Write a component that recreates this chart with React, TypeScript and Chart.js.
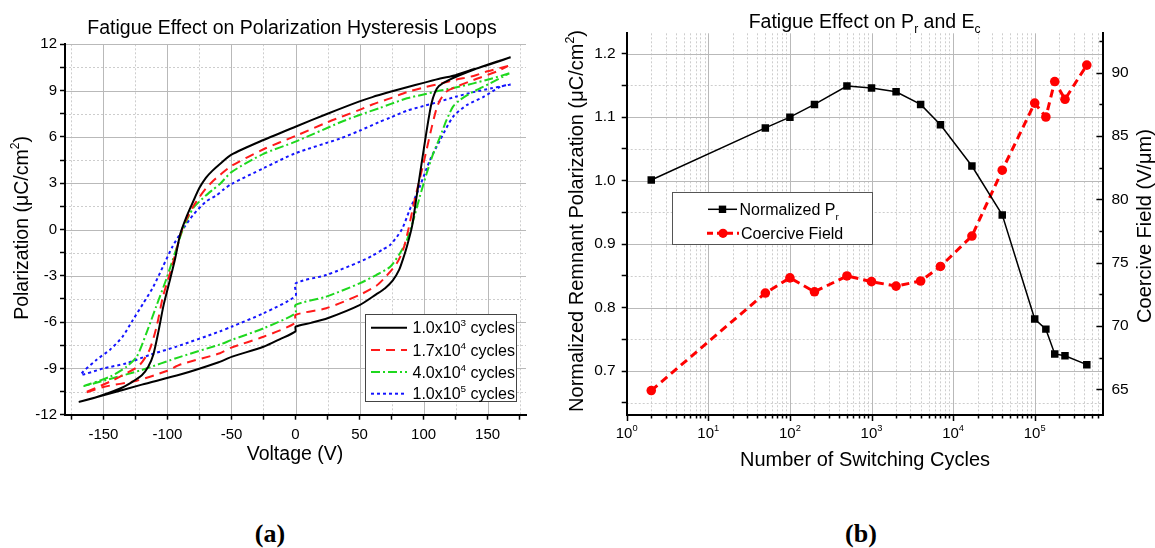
import React, { useEffect, useRef } from 'react';
import { Chart, registerables } from 'chart.js';
Chart.register(...registerables);

const FONT = '"Liberation Sans", Arial, sans-serif';

// ---------------- Panel (a): hysteresis loops ----------------
const legendA = ['1.0x10|3| cycles', '1.7x10|4| cycles', '4.0x10|4| cycles', '1.0x10|5| cycles'];

const v1e3 = [168, 150, 139, 125, 113, 100, 87, 74, 60, 50, 25, 0, -25, -50, -59, -65, -70, -75, -80, -85, -90, -94, -98, -103, -107, -111, -115, -120, -128, -137, -155, -168.6,
  -150, -120, -90, -60, -50, -25, -12, 0, 0, 12, 25, 50, 63, 70, 76, 81, 84, 87, 91, 94.5, 98.5, 102.5, 106, 109, 112, 120, 139, 160, 168];
const p1e3 = [11.16, 10.65, 10.38, 10.0, 9.78, 9.5, 9.22, 8.92, 8.58, 8.3, 7.5, 6.66, 5.8, 4.85, 4.25, 3.8, 3.35, 2.7, 1.8, 0.85, -0.3, -1.9, -3.25, -4.9, -6.6, -8.1, -8.9, -9.45, -9.9, -10.3, -10.85, -11.16,
  -10.75, -10.05, -9.4, -8.6, -8.25, -7.6, -7.1, -6.6, -6.3, -6.05, -5.75, -4.9, -4.2, -3.8, -3.3, -2.6, -1.9, -1.1, 0.2, 2.1, 4.3, 6.45, 8.1, 8.9, 9.3, 9.7, 10.35, 10.95, 11.16];

const v17e4 = [166, 150, 139, 125, 113, 100, 87, 74, 60, 50, 25, 0, -25, -50, -59, -65, -70, -75, -80, -88, -93, -98, -103.5, -108.5, -114, -121.7, -132, -145, -165,
  -150, -124, -100, -90, -59, -50, -25, 0, 0, 24, 50, 63, 70, 79, 84, 88, 93, 100, 106.3, 110, 113, 118, 126, 139, 157, 166];
const p17e4 = [10.6, 10.25, 9.95, 9.7, 9.45, 9.2, 8.9, 8.5, 8.1, 7.75, 6.95, 6.06, 5.2, 4.12, 3.53, 3.1, 2.65, 2.1, 1.48, 0.15, -1.33, -2.84, -4.35, -6.3, -7.8, -8.78, -9.32, -9.86, -10.6,
  -10.2, -9.8, -9.15, -8.75, -8.02, -7.65, -6.95, -6.05, -5.54, -5.1, -4.24, -3.65, -3.1, -2.2, -1.33, -0.05, 1.9, 4.3, 6.6, 7.8, 8.4, 8.94, 9.26, 9.69, 10.23, 10.6];

const v4e4 = [167, 152, 139, 125, 113, 100, 87, 74, 66, 50, 35, 0, -25, -50, -59, -65, -70, -80, -88, -94, -101, -108.7, -116.5, -124, -132, -145, -165,
  -150, -120, -90, -59, -50, -25, 0, 0, 24, 50, 63, 74, 81.5, 87, 92, 97, 102.4, 107.6, 113, 118, 123, 128.5, 139, 152, 167];
const p4e4 = [10.12, 9.75, 9.47, 9.2, 9.0, 8.75, 8.5, 8.12, 7.88, 7.42, 6.95, 5.69, 4.9, 3.72, 2.95, 2.55, 2.2, 1.37, 0.0, -1.5, -3.24, -4.97, -6.73, -8.24, -8.89, -9.54, -10.14,
  -9.8, -9.1, -8.25, -7.45, -7.16, -6.4, -5.43, -4.89, -4.35, -3.49, -2.95, -2.41, -1.55, -0.69, 0.6, 2.11, 3.63, 4.93, 6.02, 7.1, 7.96, 8.4, 8.94, 9.47, 10.12];

const v1e5 = [168, 153, 139, 125, 113, 100, 87, 74, 65, 50, 35, 0, -25, -50, -56, -62, -70, -80, -88, -96, -103.5, -111, -119, -127, -135, -145, -155.6, -167.5,
  -150, -132, -114, -93, -59, -50, -25, 0, 0, 24, 50, 60, 68, 74, 83, 89, 97, 105, 113, 123, 134, 147, 160, 168];
const p1e5 = [9.4, 9.15, 8.9, 8.6, 8.3, 8.0, 7.7, 7.25, 6.95, 6.4, 5.9, 4.94, 3.97, 2.95, 2.6, 2.2, 1.8, 0.94, 0.0, -1.1, -2.4, -3.7, -4.8, -5.86, -6.94, -7.8, -8.46, -9.4,
  -9.0, -8.67, -8.13, -7.59, -6.6, -6.3, -5.43, -4.3, -3.5, -2.95, -2.1, -1.7, -1.3, -1.0, 0.0, 1.24, 2.77, 4.5, 5.8, 7.3, 8.07, 8.6, 9.25, 9.4];

const xMajorA = [-150, -100, -50, 0, 50, 100, 150];
const xMinorA = [-175, -125, -75, -25, 25, 75, 125, 175];
const yMajorA = [-12, -9, -6, -3, 0, 3, 6, 9, 12];
const yMinorA = [-10.5, -7.5, -4.5, -1.5, 1.5, 4.5, 7.5, 10.5];

// ---------------- Panel (b): fatigue ----------------
const cycles = [2, 50, 100, 200, 500, 1000, 2000, 4000, 7000, 17000, 40000, 100000, 137000, 176000, 235000, 435000];
const prNorm = [1.001, 1.083, 1.100, 1.120, 1.149, 1.146, 1.140, 1.120, 1.088, 1.023, 0.946, 0.782, 0.766, 0.727, 0.724, 0.710];
const ecField = [64.9, 72.6, 73.8, 72.7, 73.95, 73.5, 73.15, 73.55, 74.7, 77.1, 82.3, 87.6, 86.5, 89.3, 87.9, 90.6];

const decadesB = [1, 10, 100, 1000, 10000, 100000];
const xMaxB = 685000;
const xMinorB: number[] = [];
decadesB.forEach((d) => { for (let k = 2; k <= 9; k++) if (d * k <= xMaxB) xMinorB.push(d * k); });
const yMajorB = [0.7, 0.8, 0.9, 1.0, 1.1, 1.2];
const yMinorB = [0.65, 0.75, 0.85, 0.95, 1.05, 1.15];
const y2MajorB = [65, 70, 75, 80, 85, 90];
const y2MinorB = [67.5, 72.5, 77.5, 82.5, 87.5, 92.5];

const MAJOR = '#b9b9b9';
const MINOR = '#cdcdcd';

type Seg = [string, string?];
function parseSegs(s: string): Seg[] {
  const parts = s.split('|');
  return parts.map((p, i) => [p, i % 2 === 1 ? 'sup' : undefined] as Seg);
}
function rich(ctx: CanvasRenderingContext2D, segs: Seg[], x: number, y: number, size: number, align = 'left', angle = 0, color = '#000') {
  ctx.save();
  ctx.translate(x, y);
  if (angle) ctx.rotate(angle);
  ctx.fillStyle = color;
  ctx.textBaseline = 'alphabetic';
  ctx.textAlign = 'left';
  const sm = size * 0.62;
  const w = segs.map(([t, k]) => { ctx.font = `${k ? sm : size}px ${FONT}`; return ctx.measureText(t).width; });
  const total = w.reduce((a, b) => a + b, 0);
  let cx = align === 'center' ? -total / 2 : align === 'right' ? -total : 0;
  segs.forEach(([t, k], i) => {
    ctx.font = `${k ? sm : size}px ${FONT}`;
    const dy = k === 'sup' ? -size * 0.42 : k === 'sub' ? size * 0.3 : 0;
    ctx.fillText(t, cx, dy);
    cx += w[i];
  });
  ctx.restore();
}

function hLine(ctx: CanvasRenderingContext2D, x1: number, x2: number, y: number) {
  const yy = Math.round(y) + 0.5;
  ctx.beginPath(); ctx.moveTo(x1, yy); ctx.lineTo(x2, yy); ctx.stroke();
}
function vLine(ctx: CanvasRenderingContext2D, x: number, y1: number, y2: number) {
  const xx = Math.round(x) + 0.5;
  ctx.beginPath(); ctx.moveTo(xx, y1); ctx.lineTo(xx, y2); ctx.stroke();
}

function setTicks(values: number[]) {
  return (s: any) => { s.ticks = [...values].sort((a, b) => a - b).map((v) => ({ value: v })); };
}
const near = (arr: number[], v: number) => arr.some((a) => Math.abs(a - v) < 1e-6);

const seriesA = [
  { v: v1e3, p: p1e3, color: '#000000', dash: [] as number[] },
  { v: v17e4, p: p17e4, color: '#ff1a1a', dash: [9, 6] },
  { v: v4e4, p: p4e4, color: '#1ed81e', dash: [9, 3, 2, 3] },
  { v: v1e5, p: p1e5, color: '#1414ff', dash: [3, 3] },
];

function configA(): any {
  const plugin = {
    id: 'panelA',
    beforeDraw(chart: any) {
      const { ctx, chartArea: ca, scales: { x, y } } = chart;
      ctx.save();
      ctx.lineWidth = 1;
      ctx.strokeStyle = MINOR; ctx.setLineDash([2, 2]);
      xMinorA.forEach((v) => vLine(ctx, x.getPixelForValue(v), ca.top, ca.bottom));
      yMinorA.forEach((v) => hLine(ctx, ca.left, ca.right, y.getPixelForValue(v)));
      ctx.strokeStyle = MAJOR; ctx.setLineDash([]);
      xMajorA.forEach((v) => vLine(ctx, x.getPixelForValue(v), ca.top, ca.bottom));
      yMajorA.filter((v) => v > -12).forEach((v) => hLine(ctx, ca.left, ca.right, y.getPixelForValue(v)));
      ctx.restore();
    },
    afterDraw(chart: any) {
      const { ctx } = chart;
      rich(ctx, [['Fatigue Effect on Polarization Hysteresis Loops']], 292, 33.5, 19.5, 'center');
      rich(ctx, [['Voltage (V)']], 295, 460, 19.5, 'center');
      rich(ctx, [['Polarization (μC/cm'], ['2', 'sup'], [')']], 27.5, 228, 19.5, 'center', -Math.PI / 2);
      ctx.save();
      ctx.fillStyle = '#fff';
      ctx.fillRect(365, 314, 151.5, 88);
      ctx.strokeStyle = '#444'; ctx.lineWidth = 1;
      ctx.strokeRect(365.5, 314.5, 151, 87);
      const rows = [327.7, 350, 372, 393.7];
      seriesA.forEach((s, i) => {
        ctx.strokeStyle = s.color; ctx.lineWidth = 2; ctx.setLineDash(s.dash);
        ctx.beginPath(); ctx.moveTo(371, rows[i]); ctx.lineTo(407, rows[i]); ctx.stroke();
        rich(ctx, parseSegs(legendA[i]), 412.5, rows[i] + 5.5, 16, 'left');
      });
      ctx.restore();
    },
  };
  return {
    type: 'scatter',
    data: {
      datasets: seriesA.map((s, i) => ({
        label: legendA[i].replace(/\|/g, ''),
        data: s.v.map((v, j) => ({ x: v, y: s.p[j] })),
        showLine: true,
        borderColor: s.color,
        borderWidth: 2,
        borderDash: s.dash,
        pointRadius: 0,
        tension: 0.25,
        fill: false,
      })),
    },
    options: {
      responsive: false,
      animation: false,
      events: [],
      layout: { padding: { left: 0, right: 34, top: 44.3, bottom: 15.3 } },
      plugins: { legend: { display: false }, tooltip: { enabled: false }, title: { display: false } },
      scales: {
        x: {
          type: 'linear', min: -180, max: 180,
          afterBuildTicks: setTicks([...xMajorA, ...xMinorA]),
          afterFit: (s: any) => { s.height = 50; },
          grid: { display: true, drawOnChartArea: false, drawTicks: true, tickLength: 5, tickColor: '#000', tickWidth: 1.5 },
          border: { display: true, color: '#000', width: 2 },
          ticks: { autoSkip: false, maxRotation: 0, padding: 6, color: '#000', font: { family: FONT, size: 15 },
            callback: (v: number) => (near(xMajorA, v) ? String(v) : '') },
        },
        y: {
          type: 'linear', min: -12, max: 12,
          afterBuildTicks: setTicks([...yMajorA, ...yMinorA]),
          afterFit: (s: any) => { s.width = 65; },
          grid: { display: true, drawOnChartArea: false, drawTicks: true, tickLength: 5, tickColor: '#000', tickWidth: 1.5 },
          border: { display: true, color: '#000', width: 2 },
          ticks: { autoSkip: false, padding: 3, color: '#000', font: { family: FONT, size: 15 },
            callback: (v: number) => (near(yMajorA, v) ? String(Math.round(v)) : '') },
        },
      },
    },
    plugins: [plugin],
  };
}

function configB(): any {
  const plugin = {
    id: 'panelB',
    beforeDraw(chart: any) {
      const { ctx, chartArea: ca, scales: { x, y } } = chart;
      ctx.save();
      ctx.lineWidth = 1;
      ctx.strokeStyle = MINOR; ctx.setLineDash([2, 2]);
      xMinorB.forEach((v) => vLine(ctx, x.getPixelForValue(v), ca.top, ca.bottom));
      yMinorB.forEach((v) => hLine(ctx, ca.left, ca.right, y.getPixelForValue(v)));
      ctx.strokeStyle = MAJOR; ctx.setLineDash([]);
      decadesB.filter((v) => v > 1).forEach((v) => vLine(ctx, x.getPixelForValue(v), ca.top, ca.bottom));
      yMajorB.forEach((v) => hLine(ctx, ca.left, ca.right, y.getPixelForValue(v)));
      ctx.restore();
    },
    afterDraw(chart: any) {
      const { ctx, chartArea: ca, scales: { x, y2 } } = chart;
      // custom tick marks: x outward (major longer), right axis inward
      ctx.save();
      ctx.strokeStyle = '#000'; ctx.lineWidth = 1.5; ctx.setLineDash([]);
      [...decadesB, ...xMinorB].forEach((v) => {
        const px = Math.round(x.getPixelForValue(v)) + 0.5;
        const len = near(decadesB, v) ? 6 : 3.5;
        ctx.beginPath(); ctx.moveTo(px, ca.bottom); ctx.lineTo(px, ca.bottom + len); ctx.stroke();
      });
      [...y2MajorB, ...y2MinorB].forEach((v) => {
        const py = Math.round(y2.getPixelForValue(v)) + 0.5;
        const len = near(y2MajorB, v) ? 6.5 : 3.5;
        ctx.beginPath(); ctx.moveTo(ca.right, py); ctx.lineTo(ca.right - len, py); ctx.stroke();
      });
      ctx.restore();
      decadesB.forEach((d) => {
        rich(ctx, [['10'], [String(Math.round(Math.log10(d))), 'sup']], x.getPixelForValue(d), 437.5, 15, 'center');
      });
      rich(ctx, [['Fatigue Effect on P'], ['r', 'sub'], [' and E'], ['c', 'sub']], 304.6, 27.5, 19.5, 'center');
      rich(ctx, [['Number of Switching Cycles']], 305, 466, 20, 'center');
      rich(ctx, [['Normalized Remnant Polarization (μC/cm'], ['2', 'sup'], [')']], 22.5, 221, 20, 'center', -Math.PI / 2);
      rich(ctx, [['Coercive Field (V/μm)']], 591, 226, 20, 'center', -Math.PI / 2);
      // legend
      ctx.save();
      ctx.fillStyle = '#fff';
      ctx.fillRect(112, 192, 200, 52);
      ctx.strokeStyle = '#555'; ctx.lineWidth = 1;
      ctx.strokeRect(112.5, 192.5, 200, 52);
      const r1 = 209.3, r2 = 233.3;
      ctx.strokeStyle = '#000'; ctx.lineWidth = 1.5; ctx.setLineDash([]);
      ctx.beginPath(); ctx.moveTo(148, r1); ctx.lineTo(177, r1); ctx.stroke();
      ctx.fillStyle = '#000'; ctx.fillRect(162.5 - 3.7, r1 - 3.7, 7.4, 7.4);
      ctx.strokeStyle = '#ff0000'; ctx.lineWidth = 3; ctx.setLineDash([6, 4]);
      ctx.beginPath(); ctx.moveTo(147, r2); ctx.lineTo(179, r2); ctx.stroke();
      ctx.setLineDash([]);
      ctx.fillStyle = '#ff0000'; ctx.beginPath(); ctx.arc(163, r2, 4.6, 0, Math.PI * 2); ctx.fill();
      rich(ctx, [['Normalized P'], ['r', 'sub']], 179.5, r1 + 5.5, 16, 'left');
      rich(ctx, [['Coercive Field']], 181, r2 + 5.5, 16, 'left');
      ctx.restore();
    },
  };
  return {
    type: 'line',
    data: {
      datasets: [
        {
          label: 'Normalized Pr',
          data: cycles.map((c, i) => ({ x: c, y: prNorm[i] })),
          yAxisID: 'y',
          borderColor: '#000', backgroundColor: '#000', borderWidth: 1.5,
          pointStyle: 'rect', pointRadius: 5.3, pointBorderWidth: 0, tension: 0,
        },
        {
          label: 'Coercive Field',
          data: cycles.map((c, i) => ({ x: c, y: ecField[i] })),
          yAxisID: 'y2',
          borderColor: '#ff0000', backgroundColor: '#ff0000', borderWidth: 3, borderDash: [8, 5],
          pointStyle: 'circle', pointRadius: 4.8, pointBorderWidth: 0, tension: 0,
        },
      ],
    },
    options: {
      responsive: false,
      animation: false,
      events: [],
      layout: { padding: { left: 0, right: 0, top: 33.3, bottom: 15 } },
      plugins: { legend: { display: false }, tooltip: { enabled: false }, title: { display: false } },
      scales: {
        x: {
          type: 'logarithmic', min: 1, max: xMaxB,
          afterBuildTicks: setTicks([...decadesB, ...xMinorB]),
          afterFit: (s: any) => { s.height = 50; },
          grid: { display: true, drawOnChartArea: false, drawTicks: false },
          border: { display: true, color: '#000', width: 2 },
          ticks: { autoSkip: false, maxRotation: 0, minRotation: 0, padding: 6, color: '#000', font: { family: FONT, size: 15 },
            callback: () => '' },
        },
        y: {
          type: 'linear', position: 'left', min: 0.6307, max: 1.2321,
          afterBuildTicks: setTicks([...yMajorB, ...yMinorB]),
          afterFit: (s: any) => { s.width = 66.7; },
          grid: { display: true, drawOnChartArea: false, drawTicks: true, tickLength: 5, tickColor: '#000', tickWidth: 1.5 },
          border: { display: true, color: '#000', width: 2 },
          ticks: { autoSkip: false, padding: 6, color: '#000', font: { family: FONT, size: 15.5 },
            callback: (v: number) => (near(yMajorB, v) ? v.toFixed(1) : '') },
        },
        y2: {
          type: 'linear', position: 'right', min: 62.97, max: 93.11,
          afterBuildTicks: setTicks([...y2MajorB, ...y2MinorB]),
          afterFit: (s: any) => { s.width = 52.1; },
          grid: { display: true, drawOnChartArea: false, drawTicks: false },
          border: { display: true, color: '#000', width: 2 },
          ticks: { autoSkip: false, padding: 8.5, color: '#000', font: { family: FONT, size: 15.5 },
            callback: (v: number) => (near(y2MajorB, v) ? String(Math.round(v)) : '') },
        },
      },
    },
    plugins: [plugin],
  };
}

export default function App() {
  const refA = useRef<HTMLCanvasElement>(null);
  const refB = useRef<HTMLCanvasElement>(null);
  useEffect(() => {
    const a = new Chart(refA.current as HTMLCanvasElement, configA());
    const b = new Chart(refB.current as HTMLCanvasElement, configB());
    return () => { a.destroy(); b.destroy(); };
  }, []);
  const lab: React.CSSProperties = {
    position: 'absolute', top: 518, width: 100, textAlign: 'center',
    font: 'bold 26px "Liberation Serif", "Times New Roman", serif', lineHeight: '32px', color: '#000',
  };
  return (
    <div style={{ position: 'absolute', left: 0, top: 0, width: 1155, height: 548, background: '#fff', overflow: 'hidden' }}>
      <canvas ref={refA} width={560} height={480} style={{ position: 'absolute', left: 0, top: 0, width: 560, height: 480 }} />
      <canvas ref={refB} width={595} height={480} style={{ position: 'absolute', left: 560, top: 0, width: 595, height: 480 }} />
      <div style={{ ...lab, left: 220 }}>(a)</div>
      <div style={{ ...lab, left: 811 }}>(b)</div>
    </div>
  );
}
